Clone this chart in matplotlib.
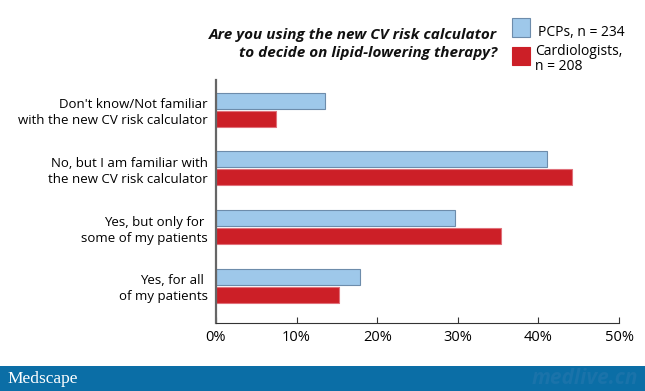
import numpy as np
import matplotlib.pyplot as plt
from matplotlib.patches import Rectangle

# survey answers, top to bottom
categories = ["Don't know/Not familiar\nwith the new CV risk calculator",
              "No, but I am familiar with\nthe new CV risk calculator",
              "Yes, but only for \nsome of my patients",
              "Yes, for all \nof my patients"]
pcps = [13.5, 41.1, 29.7, 17.9]
cardiologists = [7.4, 44.2, 35.4, 15.3]
ticks = [0, 10, 20, 30, 40, 50]

plt.rcParams['font.family'] = ['Open Sans', 'DejaVu Sans']

fig = plt.figure(figsize=(6.45, 3.91), dpi=100)
ax = fig.add_axes([216/645, 68/391, 403/645, 243/391])

y = np.arange(len(categories))
h = 0.27
ax.barh(y - 0.153, pcps, height=h, color='#9ec8ea', edgecolor='#6d8cab', linewidth=0.8)
ax.barh(y + 0.153, cardiologists, height=h, color='#cc1f27', edgecolor='#e0707a', linewidth=0.8)

ax.set_xlim(0, 50)
ax.set_ylim(3.634, -0.506)
ax.set_xticks(ticks)
ax.set_xticklabels([f"{t}%" for t in ticks], fontsize=10.5)
ax.set_yticks(y)
ax.set_yticklabels(categories, fontsize=9.5, linespacing=1.3)
ax.tick_params(axis='y', length=0, pad=6)
ax.tick_params(axis='x', direction='in', length=4, width=0.8, color='#333333', pad=5)
for s in ['top', 'right']:
    ax.spines[s].set_visible(False)
ax.spines['left'].set_color('#666666')
ax.spines['left'].set_linewidth(1.6)
ax.spines['bottom'].set_color('#333333')
ax.spines['bottom'].set_linewidth(0.8)

# title
fig.text(497/645, 1 - 44/391, "Are you using the new CV risk calculator\nto decide on lipid-lowering therapy?",
         ha='right', va='center', fontsize=11, fontweight='bold', style='italic',
         linespacing=1.3, color='#111111')

# legend
fig.patches.append(Rectangle((512/645, 1 - 37/391), 18/645, 19/391, transform=fig.transFigure,
                             facecolor='#9ec8ea', edgecolor='#6d8cab', linewidth=0.8))
fig.patches.append(Rectangle((512/645, 1 - 65/391), 18/645, 18/391, transform=fig.transFigure,
                             facecolor='#cc1f27', edgecolor='#cc1f27', linewidth=0.8))
fig.text(538/645, 1 - 32/391, "PCPs, n = 234", ha='left', va='center', fontsize=10)
fig.text(535/645, 1 - 59/391, "Cardiologists,\nn = 208", ha='left', va='center', fontsize=10,
         linespacing=1.0)

# footer band
fig.patches.append(Rectangle((0, 0), 1, 25/391, transform=fig.transFigure,
                             facecolor='#0b6ea6', edgecolor='none'))
fig.text(7/645, 12/391, "Medscape", ha='left', va='center', fontsize=12.5, color='white',
         family='Liberation Serif')
fig.text(0.99, 12/391, "medlive.cn", ha='right', va='center', fontsize=15, color='#1a73aa',
         fontweight='bold', style='italic')

fig.savefig('out.png', dpi=100)
